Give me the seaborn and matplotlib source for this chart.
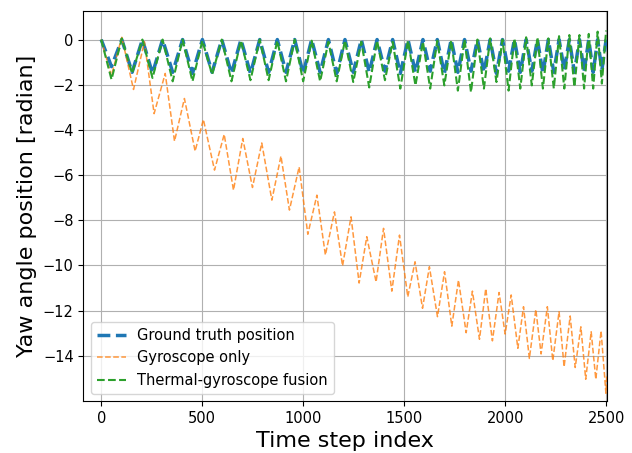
import matplotlib
matplotlib.use("Agg")
import matplotlib.pyplot as plt
import pandas as pd
import seaborn as sns

# Turning points (peaks and troughs) of each yaw trace, by time step index.
gt_steps = [0, 51, 102, 153, 204, 254, 304, 354, 403, 452, 501, 549, 597, 645,
            692, 739, 785, 829, 872, 915, 958, 1000, 1042, 1084, 1125, 1166,
            1207, 1248, 1288, 1327, 1366, 1405, 1443, 1481, 1519, 1556, 1593,
            1629, 1664, 1699, 1733, 1766, 1799, 1831, 1863, 1895, 1926, 1957,
            1987, 2017, 2046, 2075, 2104, 2132, 2160, 2187, 2214, 2241, 2267,
            2293, 2318, 2343, 2368, 2391, 2414, 2436, 2458, 2479, 2500]

gt_peaks = [0.0] * 35
gt_troughs = [-1.2, -1.45, -1.5, -1.45, -1.5, -1.45, -1.5, -1.5, -1.45, -1.45,
              -1.5, -1.45, -1.5, -1.45, -1.45, -1.4, -1.5, -1.45, -1.4, -1.5,
              -1.45, -1.4, -1.45, -1.5, -1.4, -1.45, -1.4, -1.5, -1.45, -1.35,
              -1.45, -1.4, -1.45, -1.35]

fusion_peaks = [0.0, 0.05, 0.0, 0.0, 0.0, -0.05, 0.0, -0.05, 0.0, -0.05, 0.0,
                -0.05, -0.1, -0.05, -0.1, -0.05, -0.1, -0.05, -0.1, -0.05,
                -0.05, 0.0, 0.0, 0.05, 0.0, 0.05, 0.1, 0.1, 0.05, 0.15, 0.2,
                0.2, 0.25, 0.35, 0.4]
fusion_troughs = [-1.77, -1.5, -1.7, -1.85, -1.85, -1.55, -1.85, -1.8, -1.8,
                  -1.85, -1.85, -1.85, -1.85, -1.88, -2.12, -1.8, -2.17, -2.03,
                  -2.17, -2.03, -2.26, -2.33, -2.17, -1.88, -2.26, -2.17, -2.03,
                  -2.17, -2.17, -2.17, -2.1, -2.17, -2.17, -1.95]

gyro_steps = [0, 50, 102, 160, 214, 262, 317, 363, 412, 465, 506, 561, 609, 655,
              701, 749, 795, 845, 890, 932, 980, 1023, 1068, 1110, 1155, 1195,
              1237, 1277, 1315, 1361, 1398, 1439, 1477, 1518, 1554, 1591, 1625,
              1665, 1700, 1736, 1769, 1807, 1838, 1873, 1904, 1937, 1970, 2000,
              2030, 2063, 2091, 2120, 2152, 2178, 2209, 2236, 2267, 2292, 2322,
              2347, 2375, 2399, 2426, 2449, 2475, 2499, 2503]
gyro_yaw = [0, -1.6, 0.1, -2.21, -0.1, -3.28, -1.5, -4.5, -2.61, -4.94, -3.54,
            -5.78, -4.2, -6.67, -4.38, -6.55, -4.58, -7.11, -5.16, -7.55, -5.64,
            -8.62, -6.89, -9.54, -7.63, -10.02, -7.85, -10.78, -8.73, -10.73,
            -8.36, -11.14, -8.66, -11.39, -9.84, -11.9, -10.06, -12.27, -10.28,
            -12.69, -10.65, -12.98, -11.14, -13.27, -11.03, -13.34, -11.2,
            -13.04, -11.31, -13.67, -11.83, -14.12, -11.95, -13.92, -11.83,
            -14.22, -12.05, -14.49, -12.24, -14.52, -12.72, -15.04, -12.94,
            -15.04, -12.9, -15.66, -14.9]


def interleave(peaks, troughs):
    out = []
    for i, p in enumerate(peaks):
        out.append(p)
        if i < len(troughs):
            out.append(troughs[i])
    return out


gt_df = pd.DataFrame({"step": gt_steps, "yaw": interleave(gt_peaks, gt_troughs)})
fusion_df = pd.DataFrame({"step": gt_steps,
                          "yaw": interleave(fusion_peaks, fusion_troughs)})
gyro_df = pd.DataFrame({"step": gyro_steps, "yaw": gyro_yaw})

sns.set_style("ticks", {"text.color": "black", "axes.labelcolor": "black",
                        "xtick.color": "black", "ytick.color": "black",
                        "axes.edgecolor": "black"})
plt.rcParams["font.family"] = ["DejaVu Sans"]

fig, ax = plt.subplots(figsize=(6.32, 4.53), dpi=100)
fig.subplots_adjust(left=0.132, right=0.960, top=0.976, bottom=0.115)

sns.lineplot(data=gt_df, x="step", y="yaw", sort=False, ax=ax,
             color="#1f77b4", linestyle="--", linewidth=2.5,
             label="Ground truth position")
sns.lineplot(data=gyro_df, x="step", y="yaw", sort=False, ax=ax,
             color="#ff7f0e", linestyle="--", linewidth=1.1, alpha=0.8,
             label="Gyroscope only")
sns.lineplot(data=fusion_df, x="step", y="yaw", sort=False, ax=ax,
             color="#2ca02c", linestyle="--", linewidth=1.5,
             label="Thermal-gyroscope fusion")

ax.set_xlim(-88, 2503)
ax.set_ylim(-16.0, 1.27)
ax.set_xticks([0, 500, 1000, 1500, 2000, 2500])
ax.set_yticks([0, -2, -4, -6, -8, -10, -12, -14])
ax.grid(True, color="#b0b0b0", linewidth=0.8)
ax.tick_params(labelsize=10.5, length=3.5, width=0.8)
for s in ax.spines.values():
    s.set_linewidth(0.8)
    s.set_color("black")

ax.set_xlabel("Time step index", fontsize=16)
ax.set_ylabel("Yaw angle position [radian]", fontsize=16)
ax.legend(loc="lower left", fontsize=10.5, framealpha=0.8)

fig.savefig("out.png", dpi=100)
